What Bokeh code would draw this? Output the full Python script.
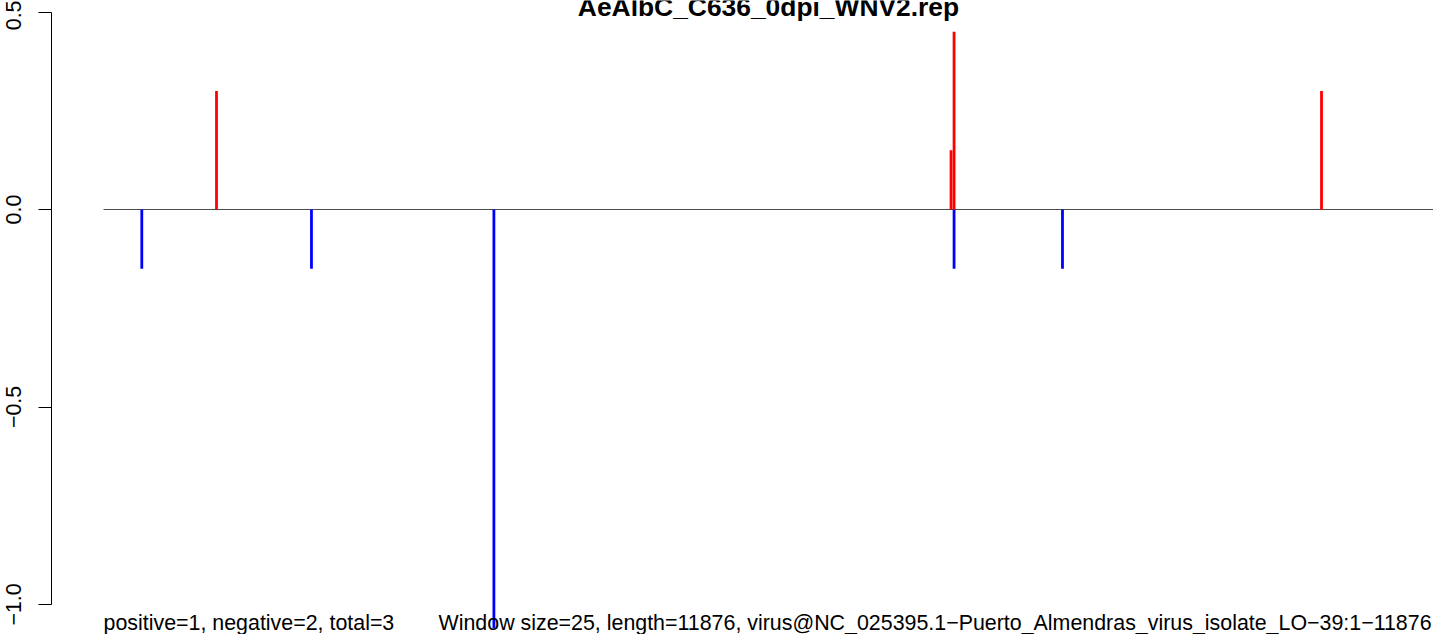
from bokeh.plotting import figure
from bokeh.models import Range1d, LinearAxis, FixedTicker, CustomJSTickFormatter
from bokeh.core.properties import value
from bokeh.embed import file_html
from bokeh.resources import INLINE

# ---- data ----
genome_length = 11876
window_size = 25
pos_x = [1009, 7568, 7595, 10876]
pos_val = [0.30, 0.15, 0.45, 0.30]
neg_x = [342, 1857, 3486, 7595, 8563]
neg_val = [-0.15, -0.15, -1.06, -0.15, -0.15]
y_ticks = [-1.0, -0.5, 0.0, 0.5]
title_text = "AeAlbC_C636_0dpi_WNV2.rep"
stats_text = "positive=1, negative=2, total=3"
info_text = ("Window size=25, length=11876, "
             "virus@NC_025395.1\u2212Puerto_Almendras_virus_isolate_LO\u221239:1\u221211876")

# ---- layout ----
W, H = 1433, 634
frame_left_px = 51          # axis line position
x0_px = 103                 # px where position 0 sits
px_per_nt = (W - x0_px) / genome_length
x_start = (frame_left_px - x0_px) / px_per_nt
x_end = genome_length
zero_px = 209               # px of y=0
px_per_unit = 395.0
y_end = zero_px / px_per_unit
y_start = -(H - zero_px) / px_per_unit

FONT = "Liberation Sans"

p = figure(width=W, height=H, output_backend="svg", toolbar_location=None,
           x_range=Range1d(x_start, x_end), y_range=Range1d(y_start, y_end),
           x_axis_location=None, y_axis_location=None,
           min_border_left=frame_left_px, min_border_right=0,
           min_border_top=0, min_border_bottom=0)
p.outline_line_color = None
p.grid.visible = False
p.background_fill_color = "white"
p.border_fill_color = "white"

yaxis = LinearAxis(ticker=FixedTicker(ticks=y_ticks),
                   formatter=CustomJSTickFormatter(code="return tick.toFixed(1).replace('-', '\u2212');"))
yaxis.bounds = (min(y_ticks), max(y_ticks))
yaxis.major_label_orientation = "vertical"
yaxis.major_tick_out = 13
yaxis.major_tick_in = 0
yaxis.minor_tick_out = 0
yaxis.minor_tick_in = 0
yaxis.major_label_standoff = 18
yaxis.major_label_text_font = FONT
yaxis.major_label_text_font_size = "21.4px"
yaxis.major_label_text_color = "black"
yaxis.axis_line_color = "black"
yaxis.major_tick_line_color = "black"
p.add_layout(yaxis, "left")

# zero line
p.line(x=[0, genome_length], y=[0, 0], line_color="#4d4d4d", line_width=1)

# bars
p.vbar(x=neg_x, width=window_size, top=0, bottom=neg_val, fill_color="#0000FF", line_color=None)
p.vbar(x=pos_x, width=window_size, top=pos_val, bottom=0, fill_color="#FF0000", line_color=None)

# texts
p.text(x=[genome_length / 2], y=[(zero_px - 6) / px_per_unit], text=[title_text],
       text_font=value(FONT), text_font_size=value("26.4px"), text_font_style="bold",
       text_align="center", text_baseline="alphabetic", text_color="black")
text_y = -(622 - zero_px) / px_per_unit
p.text(x=[0], y=[text_y], text=[stats_text],
       text_font=value(FONT), text_font_size=value("21.4px"),
       text_align="left", text_baseline="alphabetic", text_color="black")
p.text(x=[(438 - x0_px) / px_per_nt], y=[text_y], text=[info_text],
       text_font=value(FONT), text_font_size=value("21.4px"),
       text_align="left", text_baseline="alphabetic", text_color="black")

open("out.html", "w").write(file_html(p, INLINE))
